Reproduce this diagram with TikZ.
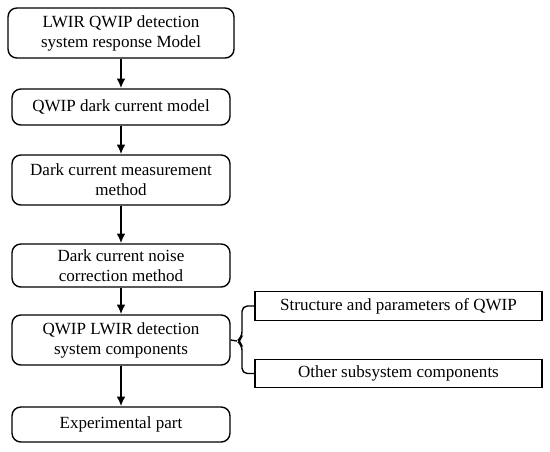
\documentclass[tikz,border=0pt]{standalone}
\usepackage{fontspec}
\setmainfont{Liberation Serif}
\usetikzlibrary{arrows.meta,positioning,calc}

\begin{document}
\begin{tikzpicture}[x=0.02cm,y=-0.02cm,
  stage/.style={draw,line width=0.8pt,rounded corners=5pt,align=center,minimum width=4.36cm,inner sep=0pt,font=\fontsize{9.7}{11.4}\selectfont},
  part/.style={draw,line width=0.8pt,align=center,minimum width=5.74cm,minimum height=0.57cm,inner sep=0pt,font=\fontsize{9.7}{11.4}\selectfont},
  flow/.style={-{Latex[length=5.5pt,width=5pt]},line width=1.3pt}]
\useasboundingbox (0,0) rectangle (550,451);
% main chain
\node[stage,minimum width=4.52cm,minimum height=1.0cm] (model) at (121,33) {LWIR QWIP detection\\system response Model};
\node[stage,minimum height=0.72cm] (dark) at (121,107) {QWIP dark current model};
\node[stage,minimum height=1.0cm] (meas) at (121,180) {Dark current measurement\\method};
\node[stage,minimum height=0.86cm] (corr) at (121,265.5) {Dark current noise\\correction method};
\node[stage,minimum height=1.0cm] (comp) at (121,340) {QWIP LWIR detection\\system components};
\node[stage,minimum height=0.7cm] (exp) at (121,424.5) {Experimental part};
\foreach \a/\b in {model/dark,dark/meas,meas/corr,corr/comp,comp/exp}{
  \draw[flow] (\a) -- (\b);
}
% sub parts
\node[part] (qwip) at (398.5,306) {Structure and parameters of QWIP};
\node[part] (other) at (398.5,373.5) {Other subsystem components};
\coordinate (tip) at (237,341);
\draw[line width=0.8pt] (comp.east) -- (tip);
\draw[line width=0.8pt,rounded corners=3pt] (qwip.west) -- (242,306) -- (242,337) -- (tip) -- (242,345) -- (242,373.5) -- (other.west);
\end{tikzpicture}
\end{document}
